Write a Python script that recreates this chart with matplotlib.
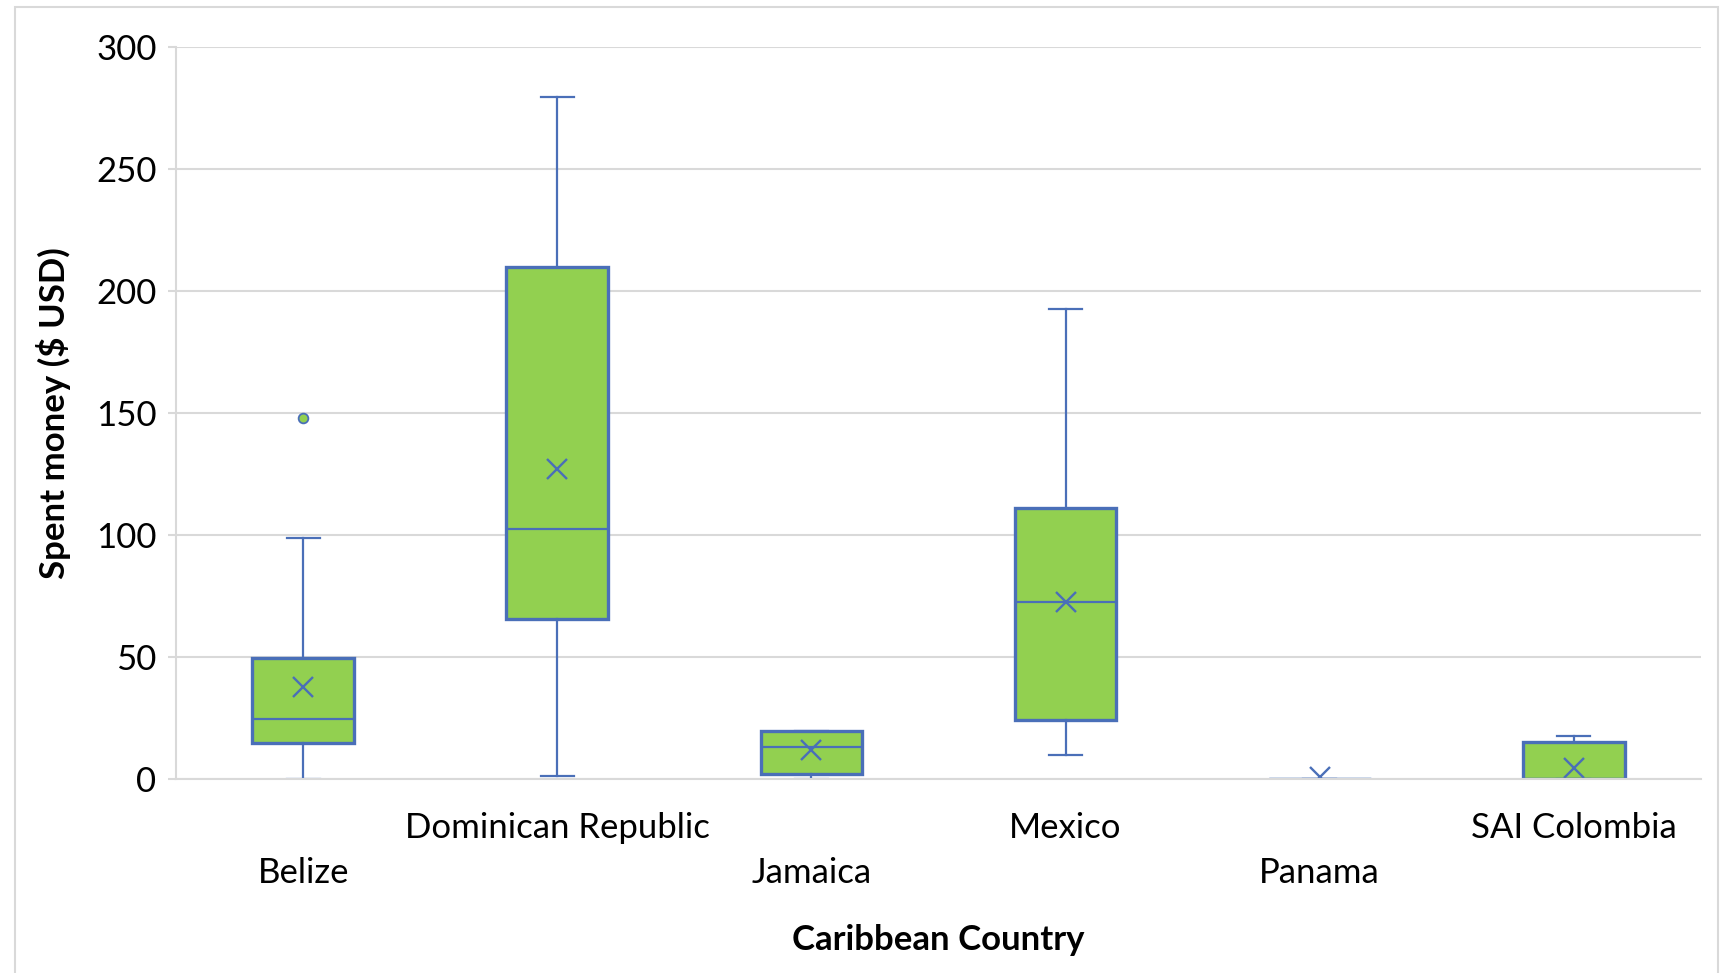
import matplotlib.pyplot as plt
from matplotlib.patches import Rectangle

# box statistics
countries = ["Belize", "Dominican Republic", "Jamaica", "Mexico", "Panama", "SAI Colombia"]
whis_low = [0, 1.3, 0, 10, 0, 0]
q1 = [14.8, 65.7, 2.2, 24.3, 0, 0]
median = [24.7, 102.5, 13, 72.4, 0, 0]
q3 = [49.5, 209.6, 19.8, 111.1, 0, 15.3]
whis_high = [98.9, 279.3, 19.8, 192.5, 0, 17.7]
means = [37.8, 126.8, 11.7, 72.4, 1.0, 4.5]
outliers = [[148], [], [], [], [], []]

blue = "#4A6FB8"
green = "#92D050"
grid = "#D9D9D9"

plt.rcParams["font.family"] = ["Lato", "DejaVu Sans"]

fig = plt.figure(figsize=(17.26, 9.73), dpi=100)
ax = fig.add_axes([0.102, 0.1994, 0.8835, 0.7528])

stats = []
for i, c in enumerate(countries):
    stats.append(dict(label=c, whislo=whis_low[i], q1=q1[i], med=median[i],
                      q3=q3[i], whishi=whis_high[i], mean=means[i],
                      fliers=outliers[i]))

ax.bxp(stats, positions=range(1, 7), widths=0.4, capwidths=0.13,
       patch_artist=True, showmeans=True,
       boxprops=dict(facecolor=green, edgecolor=blue, linewidth=2.4),
       medianprops=dict(color=blue, linewidth=1.6),
       whiskerprops=dict(color=blue, linewidth=1.6),
       capprops=dict(color=blue, linewidth=1.6),
       meanprops=dict(marker="x", markeredgecolor=blue, markersize=14,
                      markeredgewidth=1.7),
       flierprops=dict(marker="o", markerfacecolor=green, markeredgecolor=blue,
                       markersize=7, markeredgewidth=1.3))

ax.set_xlim(0.5, 6.5)
ax.set_ylim(0, 300)
ax.set_yticks(range(0, 301, 50))
ax.yaxis.grid(True, color=grid, linewidth=1.5)
ax.set_axisbelow(True)

for s in ["top", "right"]:
    ax.spines[s].set_visible(False)
ax.spines["left"].set_color(grid)
ax.spines["left"].set_linewidth(1.5)
ax.spines["bottom"].set_color(grid)
ax.spines["bottom"].set_linewidth(1.5)

ax.tick_params(axis="y", labelsize=25, length=6, color=grid, width=1.5, pad=8)
ax.tick_params(axis="x", labelsize=25, length=0)
ax.set_xticks(range(1, 7))
ax.set_xticklabels(countries)
for i, t in enumerate(ax.xaxis.get_major_ticks()):
    t.set_pad(56.5 if i % 2 == 0 else 23.5)

fig.text(0.5435, 0.0335, "Caribbean Country", ha="center", va="center",
         fontsize=25, fontweight="bold")
fig.text(0.031, 0.5755, "Spent money ($ USD)", ha="center", va="center",
         rotation=90, fontsize=25, fontweight="bold")

# chart area border
fig.patches.append(Rectangle((15 / 1726, -0.05), 1703 / 1726, 1.05 - 7 / 973,
                             transform=fig.transFigure, fill=False,
                             edgecolor=grid, linewidth=1.5))

fig.savefig("out.png", dpi=100)
